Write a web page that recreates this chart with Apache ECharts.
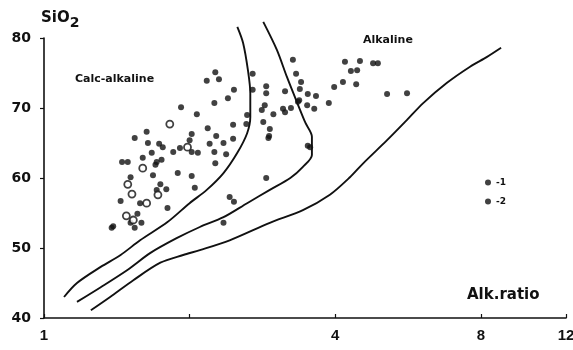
<!DOCTYPE html>
<html>
<head>
<meta charset="utf-8">
<script src="https://cdn.jsdelivr.net/npm/echarts@6/dist/echarts.min.js"></script>
<style>
  html, body { margin: 0; padding: 0; background: #fff; }
  #chart { width: 573px; height: 350px; }
</style>
</head>
<body>
<div id="chart"></div>
<script>
// boundary curves: [alk ratio, SiO2]
var curveInner = [[1.10, 43.0], [1.17, 45.0], [1.31, 47.3], [1.44, 49.0], [1.58, 51.1], [1.80, 53.7],
    [2.00, 56.4], [2.17, 58.3], [2.35, 60.7], [2.51, 63.6], [2.63, 66.4], [2.67, 68.7], [2.67, 72.1],
    [2.64, 75.4], [2.58, 79.3], [2.51, 81.6]];
var curveMiddle = [[1.17, 42.3], [1.31, 44.4], [1.49, 46.9], [1.66, 49.3], [1.88, 51.4], [2.10, 53.0],
    [2.35, 54.4], [2.63, 56.4], [2.93, 58.3], [3.23, 60.0], [3.43, 61.6], [3.58, 63.3], [3.58, 65.9],
    [3.47, 67.9], [3.34, 70.7], [3.18, 74.4], [3.03, 78.3], [2.84, 82.3]];
var curveOuter = [[1.25, 41.1], [1.37, 43.0], [1.53, 45.4], [1.74, 47.9], [1.94, 49.0], [2.10, 49.7],
    [2.42, 51.1], [2.93, 53.6], [3.43, 55.4], [3.90, 57.6], [4.29, 60.1], [4.57, 62.1], [5.12, 65.4],
    [5.63, 68.3], [6.08, 70.7], [6.81, 73.6], [7.60, 75.9], [8.24, 77.3], [8.81, 78.6]];

// samples, group 1 (filled) and group 2 (open)
var group1 = [[1.92, 70.1], [2.25, 70.7], [2.40, 71.4], [2.47, 72.6], [2.70, 72.6], [2.70, 74.9],
    [2.26, 75.1], [2.17, 73.9], [2.30, 74.1], [2.88, 73.1], [2.88, 72.1], [2.07, 69.1], [1.63, 66.6],
    [1.54, 65.7], [1.64, 65.0], [1.73, 64.9], [1.76, 64.4], [2.02, 66.3], [2.00, 65.4], [1.91, 64.3],
    [1.85, 63.7], [2.02, 63.7], [2.08, 63.6], [2.18, 67.1], [2.27, 66.0], [2.20, 64.9], [2.35, 65.0],
    [2.46, 65.6], [2.25, 63.7], [2.38, 63.4], [2.26, 62.1], [2.46, 67.6], [2.62, 67.7], [2.63, 69.0],
    [2.82, 69.7], [2.86, 70.4], [2.84, 68.0], [1.67, 63.6], [1.60, 62.9], [1.71, 62.3], [1.75, 62.6],
    [1.45, 62.3], [1.49, 62.3], [1.70, 61.9], [1.68, 60.4], [1.51, 60.1], [1.74, 59.1], [1.89, 60.7],
    [2.02, 60.3], [2.05, 58.6], [1.79, 58.4], [1.71, 58.3], [1.44, 56.7], [1.58, 56.4], [1.80, 55.7],
    [1.56, 54.9], [1.51, 53.6], [1.59, 53.6], [1.54, 52.9], [1.39, 53.1], [1.38, 52.9], [2.42, 57.3],
    [2.47, 56.6], [2.35, 53.6], [2.88, 60.0], [2.98, 69.1], [2.93, 67.0], [2.92, 66.0], [2.91, 65.7],
    [3.15, 72.4], [3.12, 69.9], [3.15, 69.4], [3.24, 70.0], [3.27, 76.9], [3.32, 74.9], [3.40, 73.7],
    [3.38, 72.7], [3.37, 71.1], [3.35, 70.9], [3.51, 72.0], [3.50, 70.4], [3.65, 71.7], [3.62, 69.9],
    [3.88, 70.7], [3.98, 73.0], [4.15, 73.7], [4.42, 73.4], [4.31, 75.3], [4.44, 75.4], [4.19, 76.6],
    [4.50, 76.7], [4.79, 76.4], [4.90, 76.4], [5.12, 72.0], [5.63, 72.1], [3.51, 64.6], [3.55, 64.4]];
var group2 = [[1.82, 67.7], [1.98, 64.4], [1.60, 61.4], [1.49, 59.1], [1.72, 57.6], [1.52, 57.7],
    [1.63, 56.4], [1.48, 54.6], [1.53, 54.0]];

// alk ratio axis (drawn on a base-2 log scale)
var xTicks = [1, 2, 4, 8, 12];
var xLabels = [1, 4, 8, 12];
var yMin = 40;
var yMax = 80;

var ink = '#111';
var font = '"DejaVu Sans", Verdana, sans-serif';
var tickFont = '"Liberation Sans", Arial, sans-serif';

// ratio -> log2 position on the x value axis
function toLog(points) {
    return points.map(function (p) { return [Math.log2(p[0]), p[1]]; });
}

var chart = echarts.init(document.getElementById('chart'));

function curve(data) {
    return {
        type: 'line',
        data: toLog(data),
        smooth: 0.3,
        symbol: 'none',
        clip: false,
        silent: true,
        lineStyle: { color: ink, width: 1.9 }
    };
}

chart.setOption({
    animation: false,
    backgroundColor: '#fff',
    grid: { left: 44, right: 7, top: 38, bottom: 32, outerBoundsMode: 'none' },
    xAxis: {
        type: 'value',
        min: 0,
        max: Math.log2(xTicks[xTicks.length - 1]),
        splitLine: { show: false },
        axisLine: { lineStyle: { color: ink, width: 1.6 } },
        axisTick: {
            inside: true,
            length: 4,
            customValues: xTicks.map(Math.log2),
            lineStyle: { color: ink, width: 1.2 }
        },
        axisLabel: {
            color: ink,
            fontFamily: tickFont,
            fontWeight: 'bold',
            fontSize: 15,
            margin: 10,
            customValues: xLabels.map(Math.log2),
            formatter: function (v) {
                return String(Math.round(Math.pow(2, v)));
            }
        }
    },
    yAxis: {
        type: 'value',
        min: yMin,
        max: yMax,
        interval: 10,
        name: '{a|SiO}{b|2}',
        nameLocation: 'end',
        nameGap: 8,
        nameTextStyle: {
            align: 'left',
            padding: [0, 0, 0, -3],
            rich: {
                a: { fontFamily: font, fontWeight: 'bold', fontSize: 15, color: ink },
                b: { fontFamily: font, fontWeight: 'bold', fontSize: 14, color: ink, padding: [10, 0, 0, 0] }
            }
        },
        splitLine: { show: false },
        axisLine: { show: true, lineStyle: { color: ink, width: 1.6 } },
        axisTick: { show: true, length: 4, lineStyle: { color: ink, width: 1.2 } },
        axisLabel: { color: ink, fontFamily: font, fontWeight: 'bold', fontSize: 14, margin: 13 }
    },
    legend: {
        orient: 'vertical',
        left: 480,
        top: 173,
        itemWidth: 6,
        itemHeight: 6,
        itemGap: 10,
        icon: 'circle',
        formatter: '-{name}',
        textStyle: { color: ink, fontFamily: font, fontWeight: 'bold', fontSize: 9 },
        data: [
            { name: '1' },
            { name: '2', itemStyle: { color: ink, borderWidth: 0 } }
        ]
    },
    graphic: [
        { type: 'text', left: 75, top: 74, style: { text: 'Calc-alkaline', font: 'bold 11px ' + font, fill: ink } },
        { type: 'text', left: 363, top: 35, style: { text: 'Alkaline', font: 'bold 11px ' + font, fill: ink } },
        { type: 'text', left: 467, top: 288, style: { text: 'Alk.ratio', font: 'bold 15px ' + font, fill: ink } }
    ],
    series: [
        curve(curveInner),
        curve(curveMiddle),
        curve(curveOuter),
        {
            name: '1',
            type: 'scatter',
            data: toLog(group1),
            symbol: 'circle',
            symbolSize: 6,
            itemStyle: { color: ink }
        },
        {
            name: '2',
            type: 'scatter',
            data: toLog(group2),
            symbol: 'circle',
            symbolSize: 7,
            itemStyle: { color: '#fff', borderColor: ink, borderWidth: 1.8 }
        }
    ]
});
</script>
</body>
</html>
